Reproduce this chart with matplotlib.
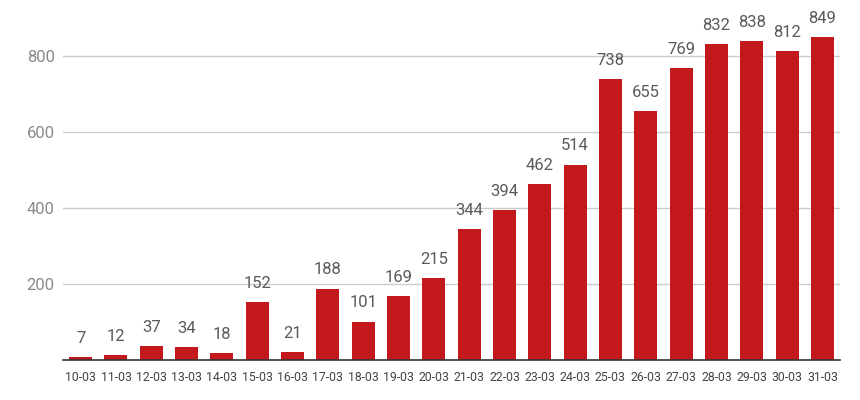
import matplotlib
matplotlib.use("Agg")
import matplotlib.pyplot as plt

dates = ["10-03", "11-03", "12-03", "13-03", "14-03", "15-03", "16-03", "17-03",
         "18-03", "19-03", "20-03", "21-03", "22-03", "23-03", "24-03", "25-03",
         "26-03", "27-03", "28-03", "29-03", "30-03", "31-03"]
values = [7, 12, 37, 34, 18, 152, 21, 188, 101, 169, 215, 344, 394, 462, 514, 738,
          655, 769, 832, 838, 812, 849]
yticks = [200, 400, 600, 800]

plt.rcParams['font.family'] = ['Roboto', 'DejaVu Sans']

fig = plt.figure(figsize=(8.6, 4.0), dpi=100)
ax = fig.add_axes([63/860, 40/400, (840-63)/860, 360/400])

x = range(len(dates))
bars = ax.bar(x, values, width=0.65, color="#c4191c", zorder=3)
for xi, v in zip(x, values):
    ax.annotate(str(v), (xi, v), xytext=(0, 8), textcoords="offset points",
                ha="center", va="bottom", fontsize=12, color="#5a5a5a")

ax.set_xlim(-0.5, len(dates) - 0.5)
ax.set_ylim(0, 947)
ax.set_yticks(yticks)
ax.set_yticklabels([str(t) for t in yticks])
ax.set_xticks(list(x))
ax.set_xticklabels(dates)
ax.tick_params(axis="y", length=0, pad=6, labelsize=12, labelcolor="#8a8a8a")
ax.tick_params(axis="x", length=0, pad=8, labelsize=8.8, labelcolor="#444444")
ax.grid(axis="y", color="#cccccc", linewidth=1, zorder=0)
for s in ["top", "right", "left"]:
    ax.spines[s].set_visible(False)
ax.spines["bottom"].set_color("#333333")
ax.spines["bottom"].set_linewidth(1.2)
ax.spines["bottom"].set_zorder(4)

fig.savefig("out.png", dpi=100)
